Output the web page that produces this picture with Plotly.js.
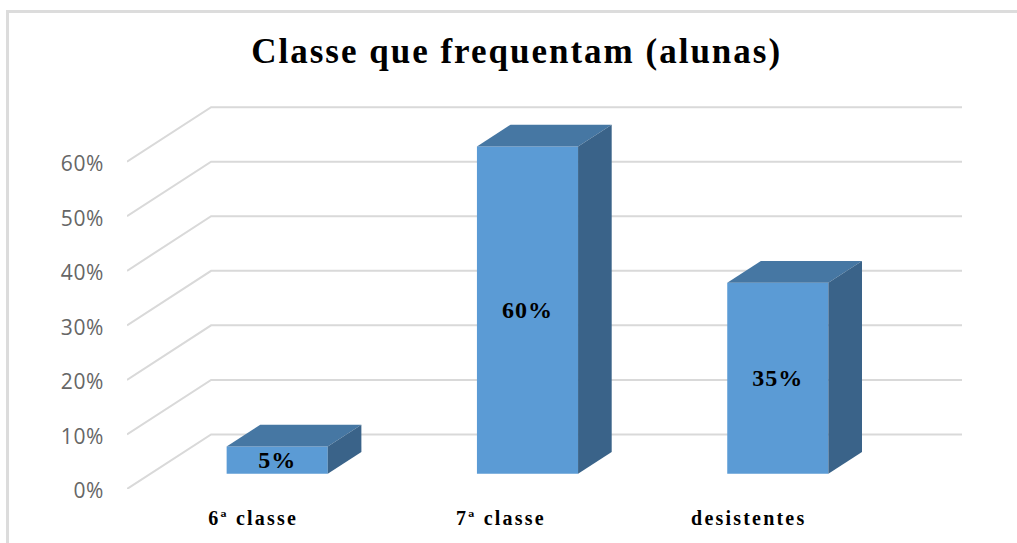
<!DOCTYPE html>
<html>
<head>
<meta charset="utf-8">
<script src="https://cdn.plot.ly/plotly-3.0.1.min.js"></script>
<style>
  html, body { margin: 0; padding: 0; background: #fff; overflow: hidden; }
  #chart { position: absolute; left: 0; top: 0; width: 1017px; height: 543px; }
  #frame { position: absolute; left: 6px; top: 10px; right: 0; bottom: 0;
           border-left: 3px solid #dcdcdc; border-top: 3px solid #dcdcdc; }
  /* the source picture is stretched sideways, letter spacing gets close to that */
  #chart .gtitle { letter-spacing: 2px; }
  #chart .xtick text { letter-spacing: 2.2px; }
  #chart .ytick text { letter-spacing: 0.6px; }
  #chart .bartext text, #chart text.bartext { letter-spacing: 1px; }
</style>
</head>
<body>
<div id="chart"></div>
<div id="frame"></div>
<script>
const chartTitle = "Classe que frequentam (alunas)";
const categories = ["6ª classe", "7ª classe", "desistentes"];
const values = [5, 60, 35];
const valueLabels = ["5%", "60%", "35%"];
const tickValues = [0, 10, 20, 30, 40, 50, 60];
const tickLabels = ["0%", "10%", "20%", "30%", "40%", "50%", "60%"];

// fake 3D: one unit of depth moves a point right (category units) and up (percent)
const depthX = 84 / 250;
const depthY = 10;
const barFront = 0.28;
const barBack = 0.68;
const barHalf = 0.202;
const barShift = 0.006;
const labelPitch = 0.99;
const slot = categories.map((c, i) => i);

const frontColor = "#5b9bd5";
const topColor = "#4677a3";
const sideColor = "#3a6389";
const gridColor = "#d9d9d9";

const project = (x, y, d) => [x + d * depthX, y + d * depthY];

function polygon(points, color) {
  return {
    type: "scatter",
    mode: "lines",
    x: points.map((p) => p[0]),
    y: points.map((p) => p[1]),
    fill: "toself",
    fillcolor: color,
    line: { width: 0 },
    hoverinfo: "skip",
    showlegend: false,
  };
}

const frontTrace = {
  type: "bar",
  x: slot.map((i) => project(i + barShift, 0, barFront)[0]),
  y: values,
  base: slot.map(() => barFront * depthY),
  width: barHalf * 2,
  marker: { color: frontColor, line: { width: 0 } },
  text: valueLabels,
  textposition: "inside",
  insidetextanchor: "middle",
  constraintext: "none",
  textangle: 0,
  textfont: { family: "Liberation Serif", size: 24, color: "#000", weight: 700 },
  showlegend: false,
};

const topTraces = slot.map((i) =>
  polygon(
    [
      project(i + barShift - barHalf, values[i], barFront),
      project(i + barShift + barHalf, values[i], barFront),
      project(i + barShift + barHalf, values[i], barBack),
      project(i + barShift - barHalf, values[i], barBack),
    ],
    topColor,
  ),
);

const sideTraces = slot.map((i) =>
  polygon(
    [
      project(i + barShift + barHalf, 0, barFront),
      project(i + barShift + barHalf, values[i], barFront),
      project(i + barShift + barHalf, values[i], barBack),
      project(i + barShift + barHalf, 0, barBack),
    ],
    sideColor,
  ),
);

// gridlines sit under the bars, so they are shapes on the below layer
const xLeft = -0.5;
const xRight = xLeft + categories.length;
const gridShapes = tickValues.map((v) => {
  const a = project(xLeft, v, 0);
  const b = project(xLeft, v, 1);
  const c = project(xRight, v, 1);
  return {
    type: "path",
    xref: "x",
    yref: "y",
    layer: "below",
    path: `M${a[0]},${a[1]} L${b[0]},${b[1]} L${c[0]},${c[1]}`,
    line: { color: gridColor, width: 2 },
  };
});

const layout = {
  width: 1017,
  height: 543,
  margin: { l: 127, r: 55, t: 105, b: 54 },
  paper_bgcolor: "#fff",
  plot_bgcolor: "#fff",
  showlegend: false,
  title: {
    text: chartTitle,
    x: 0.508,
    xanchor: "center",
    y: 0.906,
    yanchor: "middle",
    font: { family: "Liberation Serif", size: 35, color: "#000", weight: 700 },
  },
  xaxis: {
    range: [xLeft, xRight + depthX],
    tickvals: slot.map((i) => i * labelPitch + 0.004),
    ticktext: categories,
    tickfont: { family: "Liberation Serif", size: 20, color: "#000", weight: 700 },
    ticklabelstandoff: 15,
    showgrid: false,
    zeroline: false,
    showline: false,
    ticks: "",
  },
  yaxis: {
    range: [0, 70.4],
    tickvals: tickValues,
    ticktext: tickLabels,
    tickfont: { family: "Open Sans", size: 21, color: "#666" },
    ticklabelstandoff: 22,
    ticklabelshift: 2,
    showgrid: false,
    zeroline: false,
    showline: false,
    ticks: "",
  },
  shapes: gridShapes,
};

Plotly.newPlot("chart", [frontTrace, ...topTraces, ...sideTraces], layout, {
  displayModeBar: false,
  responsive: false,
});
</script>
</body>
</html>
